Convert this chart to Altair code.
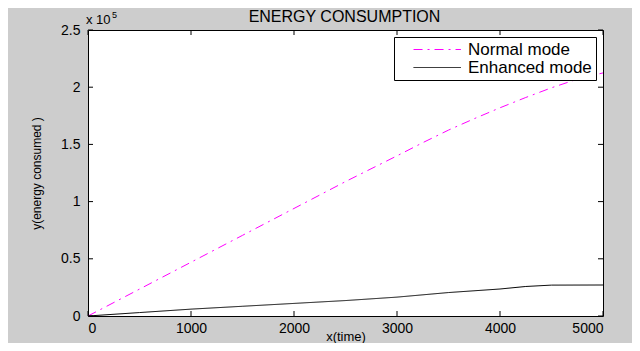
import altair as alt
import pandas as pd

# ---- data ----
normal_x = [0, 500, 1000, 1500, 2000, 2500, 3000, 3250, 3500, 3750, 4000, 4250, 4500, 4750, 5000]
normal_y = [0, 23500, 47000, 70500, 94000, 117500, 140000, 151500, 162500, 172500, 182000,
            191000, 199500, 207000, 212500]
enhanced_x = [0, 500, 1000, 1500, 2000, 2500, 3000, 3500, 4000, 4250, 4500, 5000]
enhanced_y = [0, 3000, 6000, 8500, 11000, 13500, 16500, 20500, 23600, 25800, 27000, 27100]
series_names = ["Normal mode", "Enhanced mode"]
x_ticks = [0, 1000, 2000, 3000, 4000, 5000]
y_ticks = [0, 50000, 100000, 150000, 200000, 250000]
chart_title = "ENERGY CONSUMPTION"

rows = []
for name, xs, ys in zip(series_names, [normal_x, enhanced_x], [normal_y, enhanced_y]):
    for xv, yv in zip(xs, ys):
        rows.append({"x": xv, "y": yv, "mode": name})
df = pd.DataFrame(rows)

W, H = 515, 286
FONT = "Liberation Sans"

xscale = alt.Scale(domain=[0, 5000], nice=False, zero=False)
yscale = alt.Scale(domain=[0, 250000], nice=False)

lines = alt.Chart(df).mark_line(strokeWidth=1).encode(
    x=alt.X("x:Q", scale=xscale,
            axis=alt.Axis(values=x_ticks, format="d", ticks=False, domain=False, grid=False,
                          labelPadding=5, labelFontSize=14, labelFont=FONT, labelColor="#000",
                          title="x(time)", titleFont=FONT, titleFontSize=13,
                          titleFontWeight="normal", titleColor="#000",
                          titleX=W / 2, titleY=20, titleAlign="center", titleBaseline="middle")),
    y=alt.Y("y:Q", scale=yscale,
            axis=alt.Axis(values=y_ticks, labelExpr="datum.value/100000 + ''", ticks=False,
                          domain=False, grid=False, labelPadding=8, labelFontSize=14,
                          labelFont=FONT, labelColor="#000",
                          title="y(energy consumed )", titleFont=FONT, titleFontSize=12,
                          titleFontWeight="normal", titleColor="#000",
                          titleX=-52, titleY=H / 2, titleAngle=-90, titleAlign="center",
                          titleBaseline="middle")),
    color=alt.Color("mode:N", scale=alt.Scale(domain=series_names, range=["#ff00ff", "#000000"]),
                    legend=alt.Legend(title=None, orient="top-right", offset=7,
                                      strokeColor="#000", fillColor="#fff", padding=4,
                                      symbolType="M1.28,0H9.9", symbolSize=121,
                                      symbolStrokeWidth=1,
                                      labelFont=FONT, labelFontSize=17, labelColor="#000",
                                      labelOffset=53, rowPadding=0, cornerRadius=0)),
    strokeDash=alt.StrokeDash("mode:N", scale=alt.Scale(domain=series_names,
                                                        range=[[9, 5, 2, 5], [1, 0]]),
                              legend=alt.Legend(title=None, orient="top-right")),
)

xt = pd.DataFrame({"t": x_ticks})
yt = pd.DataFrame({"v": y_ticks})
tick_bottom = alt.Chart(xt).mark_rule(color="#000", strokeWidth=1).encode(
    x=alt.X("t:Q", scale=xscale), y=alt.value(H), y2=alt.value(H - 5))
tick_top = alt.Chart(xt).mark_rule(color="#000", strokeWidth=1).encode(
    x=alt.X("t:Q", scale=xscale), y=alt.value(0), y2=alt.value(5))
tick_left = alt.Chart(yt).mark_rule(color="#000", strokeWidth=1).encode(
    y=alt.Y("v:Q", scale=yscale), x=alt.value(0), x2=alt.value(5))
tick_right = alt.Chart(yt).mark_rule(color="#000", strokeWidth=1).encode(
    y=alt.Y("v:Q", scale=yscale), x=alt.value(W), x2=alt.value(W - 5))

exp_df = pd.DataFrame({"t": ["x 10"]})
exp_base = alt.Chart(exp_df).mark_text(align="left", baseline="alphabetic", font=FONT,
                                       fontSize=13, color="#000").encode(
    text="t:N", x=alt.value(-2), y=alt.value(-6))
sup_df = pd.DataFrame({"t": ["5"]})
exp_sup = alt.Chart(sup_df).mark_text(align="left", baseline="alphabetic", font=FONT,
                                      fontSize=9, color="#000").encode(
    text="t:N", x=alt.value(24), y=alt.value(-12))

title_df = pd.DataFrame({"t": [chart_title]})
title_mark = alt.Chart(title_df).mark_text(align="center", baseline="middle", font=FONT,
                                           fontSize=16, color="#000").encode(
    text="t:N", x=alt.value(W / 2 - 1), y=alt.value(-13))

chart = alt.layer(lines, tick_bottom, tick_top, tick_left, tick_right,
                  exp_base, exp_sup, title_mark).properties(
    width=W, height=H,
    autosize=alt.AutoSizeParams(type="none"),
    padding={"left": 80, "top": 22, "right": 29, "bottom": 27},
).configure(background="#cdcdcd").configure_view(stroke="#000", strokeWidth=1, fill="#fff")

chart.save("out.html", embed_options={"renderer": "svg", "actions": False})
